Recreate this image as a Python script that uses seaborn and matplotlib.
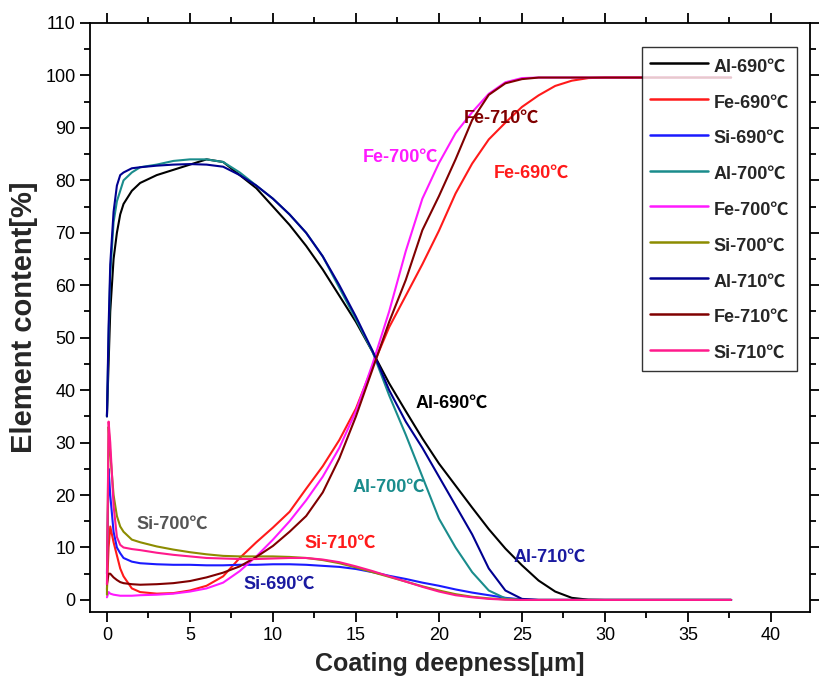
import numpy as np
import pandas as pd
import matplotlib
matplotlib.use("Agg")
import matplotlib.pyplot as plt
import seaborn as sns
from matplotlib.ticker import MultipleLocator

# ---- data ----
depth = [0, 0.1, 0.2, 0.4, 0.6, 0.8, 1, 1.5, 2, 3, 4, 5, 6, 7, 8, 9, 10,
         11, 12, 13, 14, 15, 16, 17, 18, 19, 20, 21, 22, 23, 24, 25, 26, 27,
         28, 29, 30, 32, 34, 36, 37.6]

al_690 = [35, 45, 55, 65, 70, 73.5, 75.5, 78, 79.5, 81, 82, 83, 84, 83.5, 81, 78.5, 75,
          71.5, 67.5, 63, 58, 53, 47.3, 41.3, 36, 30.8, 26, 21.8, 17.6, 13.5, 9.8, 6.6, 3.7, 1.6,
          0.4, 0.05, 0, 0, 0, 0, 0]
fe_690 = [2, 10, 14, 11, 8.5, 6, 4.5, 2.2, 1.5, 1.2, 1.3, 1.8, 2.7, 4.5, 8, 11, 13.8,
          16.8, 21.2, 25.5, 30.5, 36.5, 44.5, 52, 58, 64, 70.4, 77.5, 83.2, 87.8, 91, 94, 96.2, 98,
          99, 99.5, 99.6, 99.6, 99.6, 99.6, 99.6]
si_690 = [5, 25, 20, 13, 10, 8.9, 8, 7.3, 7, 6.8, 6.7, 6.7, 6.6, 6.6, 6.7, 6.7, 6.8,
          6.8, 6.7, 6.5, 6.3, 5.9, 5.3, 4.6, 4, 3.3, 2.7, 2, 1.4, 0.9, 0.4, 0.1, 0, 0,
          0, 0, 0, 0, 0, 0, 0]
al_700 = [35, 50, 62, 72, 76, 78, 80, 81.5, 82.5, 83, 83.7, 84, 84, 83.5, 81.5, 79, 76.5,
          73.5, 70, 65.5, 59.5, 53.5, 47.3, 39, 31.5, 23.5, 15.5, 10, 5.3, 1.8, 0.3, 0, 0, 0,
          0, 0, 0, 0, 0, 0, 0]
fe_700 = [0.5, 1.5, 1.2, 1, 0.9, 0.8, 0.8, 0.8, 0.9, 1, 1.2, 1.6, 2.2, 3.3, 5.5, 8.3, 11.5,
          15, 19, 23.5, 29, 36, 45, 55, 66.5, 76.5, 83.3, 89, 93, 96.5, 98.7, 99.5, 99.6, 99.6,
          99.6, 99.6, 99.6, 99.6, 99.6, 99.6, 99.6]
si_700 = [1, 33, 28, 20, 16, 14, 13, 11.5, 11, 10.2, 9.6, 9.1, 8.7, 8.4, 8.3, 8.3, 8.3,
          8.2, 8, 7.6, 7, 6.2, 5.3, 4.4, 3.5, 2.6, 1.8, 1.1, 0.6, 0.3, 0.1, 0, 0, 0,
          0, 0, 0, 0, 0, 0, 0]
al_710 = [35, 52, 64, 74, 79, 81, 81.5, 82.3, 82.5, 82.8, 83, 83.1, 83, 82.6, 81, 79, 76.5,
          73.5, 70, 65.5, 60, 54, 47.5, 40, 34, 29, 23.5, 18, 12.5, 6, 1.8, 0.2, 0, 0,
          0, 0, 0, 0, 0, 0, 0]
fe_710 = [3, 5, 5, 4.3, 3.8, 3.4, 3.2, 3, 2.9, 3, 3.2, 3.6, 4.3, 5.2, 6.4, 8.2, 10.3,
          13, 16, 20.5, 27, 35, 44, 53, 61, 70.5, 77, 84, 91.5, 96.3, 98.5, 99.3, 99.6, 99.6,
          99.6, 99.6, 99.6, 99.6, 99.6, 99.6, 99.6]
si_710 = [3, 34, 30, 18, 12, 10.5, 10, 9.7, 9.5, 9, 8.6, 8.3, 8, 7.9, 7.8, 7.8, 7.9,
          8, 8, 7.7, 7.2, 6.4, 5.5, 4.5, 3.5, 2.5, 1.6, 0.9, 0.5, 0.2, 0.05, 0, 0, 0,
          0, 0, 0, 0, 0, 0, 0]

series_names = ["Al-690℃", "Fe-690℃", "Si-690℃", "Al-700℃", "Fe-700℃",
                "Si-700℃", "Al-710℃", "Fe-710℃", "Si-710℃"]
series_values = [al_690, fe_690, si_690, al_700, fe_700, si_700, al_710, fe_710, si_710]
series_colors = ["#000000", "#FF1A1A", "#1A1AFF", "#1A8C8C", "#FF1AFF",
                 "#8C8C00", "#000090", "#800000", "#FF1A8C"]

# annotation labels: text, x, y, color
ann_text = ["Al-690℃", "Al-700℃", "Al-710℃", "Fe-690℃", "Fe-700℃", "Fe-710℃",
            "Si-700℃", "Si-710℃", "Si-690℃"]
ann_x = [18.6, 14.8, 24.5, 23.3, 15.4, 21.5, 1.8, 11.9, 8.2]
ann_y = [37.5, 21.5, 8.2, 81.4, 84.3, 91.9, 14.5, 10.8, 2.9]
ann_color = ["#000000", "#1A8C8C", "#1A1AA0", "#FF1A1A", "#FF1AFF", "#800000",
             "#555555", "#FF1A1A", "#1A1AA0"]

frames = []
for name, vals in zip(series_names, series_values):
    frames.append(pd.DataFrame({"depth": depth, "content": vals, "series": name}))
df = pd.concat(frames, ignore_index=True)

sns.set_style("ticks")
plt.rcParams["font.family"] = ["Liberation Sans", "Noto Sans CJK SC", "DejaVu Sans"]

fig = plt.figure(figsize=(8.19, 6.92), dpi=100)
ax = fig.add_axes([90 / 819, 80 / 692, 720 / 819, 589 / 692])

sns.lineplot(data=df, x="depth", y="content", hue="series", hue_order=series_names,
             palette=dict(zip(series_names, series_colors)), estimator=None,
             sort=False, linewidth=1.5, ax=ax)

ax.set_xlim(-1.02, 42.35)
ax.set_ylim(-2.3, 110)
ax.xaxis.set_major_locator(MultipleLocator(5))
ax.xaxis.set_minor_locator(MultipleLocator(2.5))
ax.yaxis.set_major_locator(MultipleLocator(10))
ax.yaxis.set_minor_locator(MultipleLocator(5))
ax.tick_params(which="both", direction="out", top=True, right=True, width=1.3,
               labelsize=13, colors="black")
ax.tick_params(which="major", length=7)
ax.tick_params(which="minor", length=4)
for sp in ax.spines.values():
    sp.set_linewidth(1.3)
    sp.set_color("black")

ax.set_xlabel("Coating deepness[μm]", fontsize=18, fontweight="bold", labelpad=6)
ax.set_ylabel("Element content[%]", fontsize=21, fontweight="bold", labelpad=5)

for t, x, y, c in zip(ann_text, ann_x, ann_y, ann_color):
    ax.text(x, y, t, color=c, fontsize=13, fontweight="bold", ha="left", va="center")

leg = ax.legend(loc="upper right", bbox_to_anchor=(0.982, 0.9593), frameon=True,
                fancybox=False, edgecolor="black", labelspacing=0.8,
                handlelength=3.2, handletextpad=0.33, borderpad=0.45,
                handleheight=1.44, borderaxespad=0.0,
                prop={"weight": "bold", "size": 13})
leg.get_frame().set_linewidth(1.0)
for line in leg.get_lines():
    line.set_linewidth(1.8)

fig.savefig("out.png", dpi=100)
